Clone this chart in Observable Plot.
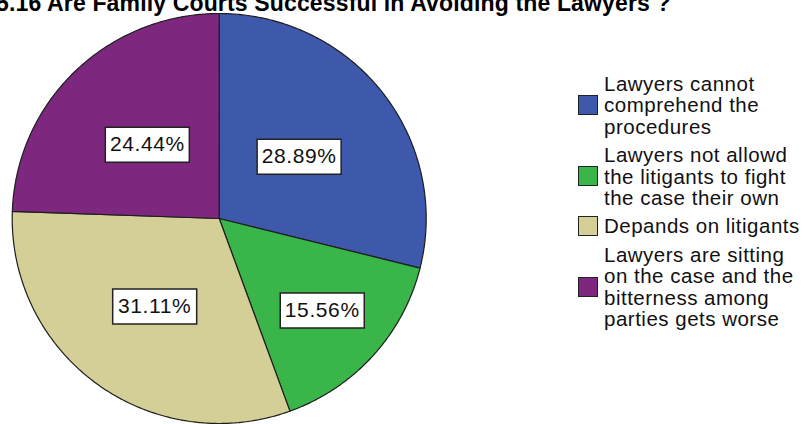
<!DOCTYPE html>
<html><head><meta charset="utf-8">
<script src="https://cdn.jsdelivr.net/npm/d3@7"></script>
<script src="https://cdn.jsdelivr.net/npm/@observablehq/plot@0.6"></script>
<style>
html,body{margin:0;padding:0;background:#fff;overflow:hidden}
#wrap{position:relative;width:804px;height:424px;overflow:hidden;background:#fff}
#chart{position:absolute;left:0;top:0}
#chart text{letter-spacing:0.6px}
#title{position:absolute;left:-4px;top:-8.5px;font:bold 23px "Liberation Sans",Arial,sans-serif;line-height:23px;white-space:nowrap;color:#000;letter-spacing:0.15px}
#legend{position:absolute;left:578px;top:73px;font:20.5px "Liberation Sans",Arial,sans-serif;letter-spacing:0.5px;line-height:21.4px;color:#111}
.item{display:flex;align-items:center;margin-bottom:7px}
.sw{width:18px;height:18px;border:1.5px solid #222;box-sizing:content-box;margin-right:6px;flex:none}
.lab{white-space:pre}
</style></head><body>
<div id="wrap"><div id="chart"></div><div id="title"></div><div id="legend"></div></div>
<script>
// ---- data ----
const titleText = "5.16 Are Family Courts Successful in Avoiding the Lawyers ?";
const categories = [
  "Lawyers cannot\ncomprehend the\nprocedures",
  "Lawyers not allowd\nthe litigants to fight\nthe case their own",
  "Depands on litigants",
  "Lawyers are sitting\non the case and the\nbitterness among\nparties gets worse"
];
const percents = [28.89, 15.56, 31.11, 24.44];
const colors = ["#3E58AC", "#39B54A", "#D4CE97", "#7D287E"];

// ---- layout (label distance from centre, as fraction of radius) ----
const labelRadius = [0.49, 0.67, 0.53, 0.50];

const rows = categories.map((c, i) => ({cat: c, pct: percents[i], i}));
const arcs = d3.pie().sort(null).value(d => d.pct)(rows);

const piePts = [];
for (const a of arcs) {
  const cat = a.data.cat;
  piePts.push({cat, x: 0, y: 0});
  const n = Math.max(2, Math.ceil((a.endAngle - a.startAngle) / (Math.PI / 360)));
  for (let k = 0; k <= n; k++) {
    const t = a.startAngle + (a.endAngle - a.startAngle) * k / n;
    piePts.push({cat, x: Math.sin(t), y: Math.cos(t)});
  }
  piePts.push({cat, x: 0, y: 0});
}

const labels = arcs.map(a => {
  const m = (a.startAngle + a.endAngle) / 2;
  const r = labelRadius[a.data.i];
  return {x: r * Math.sin(m), y: r * Math.cos(m), text: d3.format(".2f")(a.data.pct) + "%"};
});

const boxSymbol = {draw(ctx) { ctx.rect(-42, -17.5, 84, 35); }};

const plot = Plot.plot({
  width: 804, height: 424, margin: 0,
  style: {background: "transparent"},
  x: {domain: [-1, 1], range: [11.7, 425.7], axis: null},
  y: {domain: [-1, 1], range: [423, 13], axis: null},
  color: {domain: categories, range: colors},
  marks: [
    Plot.line(piePts, {x: "x", y: "y", z: "cat", fill: "cat", stroke: "#1e1e1e", strokeWidth: 1.2, strokeLinejoin: "round", curve: "linear"}),
    Plot.dot(labels, {x: "x", y: "y", symbol: boxSymbol, fill: "white", stroke: "#222", strokeWidth: 1.5}),
    Plot.text(labels, {x: "x", y: "y", text: "text", fontSize: 21, fill: "#111", fontFamily: "Liberation Sans, Arial, sans-serif"})
  ]
});
document.getElementById("chart").appendChild(plot);
document.getElementById("title").textContent = titleText;

const color = plot.scale("color");
const legend = document.getElementById("legend");
color.domain.forEach((c, i) => {
  const item = document.createElement("div");
  item.className = "item";
  const sw = document.createElement("div");
  sw.className = "sw";
  sw.style.background = color.range[i];
  const lab = document.createElement("div");
  lab.className = "lab";
  lab.textContent = c;
  item.appendChild(sw); item.appendChild(lab);
  legend.appendChild(item);
});
</script>
</body></html>
